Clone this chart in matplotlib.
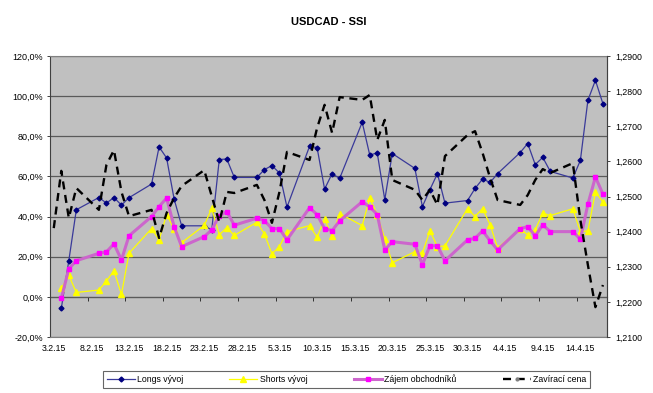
import matplotlib
matplotlib.use('Agg')
import matplotlib.pyplot as plt
import matplotlib.dates as mdates
from matplotlib.lines import Line2D
from matplotlib.ticker import FuncFormatter
from datetime import datetime

plt.rcParams['font.family'] = ['Liberation Sans', 'DejaVu Sans']

title = "USDCAD - SSI"
series_labels = ["Longs vývoj", "Shorts vývoj", "Zájem obchodníků", "Zavírací cena"]

dates = ["4.2.15", "5.2.15", "6.2.15", "9.2.15", "10.2.15", "11.2.15", "12.2.15", "13.2.15",
         "16.2.15", "17.2.15", "18.2.15", "19.2.15", "20.2.15", "23.2.15", "24.2.15", "25.2.15",
         "26.2.15", "27.2.15",
         "2.3.15", "3.3.15", "4.3.15", "5.3.15", "6.3.15", "9.3.15", "10.3.15", "11.3.15",
         "12.3.15", "13.3.15", "16.3.15", "17.3.15", "18.3.15", "19.3.15", "20.3.15", "23.3.15",
         "24.3.15", "25.3.15", "26.3.15", "27.3.15", "30.3.15", "31.3.15",
         "1.4.15", "2.4.15", "3.4.15", "6.4.15", "7.4.15", "8.4.15", "9.4.15", "10.4.15",
         "13.4.15", "14.4.15", "15.4.15", "16.4.15", "17.4.15"]
close_dates = ["3.2.15"] + dates

longs = [-5.8, 18.0, 43.4, 49.5, 46.7, 49.5, 45.7, 49.4, 56.2, 74.7, 69.2, 48.7, 35.4, 35.4, 33.4,
         68.4, 68.7, 59.5,
         59.5, 63.4, 65.4, 61.7, 44.7, 75.0, 74.4, 53.7, 61.4, 59.0, 87.0, 70.7, 71.7, 48.4, 71.4,
         64.0, 45.0, 53.4, 61.4, 46.7, 48.0, 54.0,
         58.7, 57.0, 61.4, 71.9, 76.4, 65.9, 69.5, 62.5, 59.2, 68.0, 97.9, 107.9, 96.2]
shorts = [4.2, 10.7, 2.2, 3.4, 7.9, 13.0, 1.2, 21.7, 34.0, 28.4, 40.9, 33.7, 27.0, 35.6, 44.1,
          30.9, 34.5, 30.6,
          37.2, 31.4, 21.4, 25.0, 32.5, 35.5, 29.7, 38.7, 30.4, 41.5, 35.5, 49.2, 40.9, 29.0, 17.0,
          22.5, 21.7, 32.9, 25.0, 25.4, 44.0, 40.0,
          44.0, 35.9, 24.4, 33.9, 30.9, 33.4, 41.7, 40.5, 43.9, 32.4, 32.9, 52.2, 47.2]
zajem = [-0.8, 14.0, 18.0, 21.7, 22.4, 26.4, 18.4, 30.4, 40.0, 45.0, 49.2, 35.0, 25.0, 30.0, 33.4,
         40.4, 42.5, 35.7,
         39.2, 38.0, 34.0, 34.0, 28.4, 44.4, 41.0, 34.0, 33.0, 37.9, 47.4, 44.9, 41.0, 23.4, 27.5,
         26.2, 16.0, 25.5, 25.4, 18.0, 28.4, 29.2,
         32.9, 27.9, 23.4, 34.0, 35.0, 30.4, 35.9, 32.5, 32.5, 28.7, 46.2, 59.7, 51.2]
close = [1.2410,
         1.2573, 1.2439, 1.2524, 1.2462, 1.2590, 1.2632, 1.2513, 1.2444, 1.2462, 1.2382, 1.2453,
         1.2496, 1.2530, 1.2575, 1.2501, 1.2427, 1.2513, 1.2510,
         1.2533, 1.2490, 1.2425, 1.2513, 1.2627, 1.2604, 1.2695, 1.2761, 1.2681, 1.2783, 1.2775,
         1.2789, 1.2661, 1.2718, 1.2547, 1.2519, 1.2490, 1.2519, 1.2476, 1.2615, 1.2675, 1.2686,
         1.2624, 1.2553, 1.2490, 1.2476, 1.2504, 1.2547, 1.2578, 1.2567, 1.2595, 1.2433, 1.2305,
         1.2185, 1.2248]

x_tick_labels = ["3.2.15", "8.2.15", "13.2.15", "18.2.15", "23.2.15", "28.2.15", "5.3.15",
                 "10.3.15", "15.3.15", "20.3.15", "25.3.15", "30.3.15", "4.4.15", "9.4.15",
                 "14.4.15"]
left_ticks = [-20, 0, 20, 40, 60, 80, 100, 120]
right_ticks = [1.21, 1.22, 1.23, 1.24, 1.25, 1.26, 1.27, 1.28, 1.29]


def parse(s):
    return datetime.strptime(s, "%d.%m.%y")


x = [parse(s) for s in dates]
xc = [parse(s) for s in close_dates]
xt = mdates.date2num([parse(s) for s in x_tick_labels])

W, H = 653, 393
fig = plt.figure(figsize=(W / 100, H / 100), dpi=100)
fig.patch.set_facecolor('white')

L, R, T, B = 50, 606.7, 56, 337
ax = fig.add_axes([L / W, 1 - B / H, (R - L) / W, (B - T) / H])
ax.set_facecolor('#C0C0C0')

x0 = mdates.date2num(xc[0]) - 0.5
x1 = mdates.date2num(xc[-1]) + 0.5
ax.set_xlim(x0, x1)
ax.set_ylim(left_ticks[0], left_ticks[-1])
ax.set_yticks(left_ticks)
ax.yaxis.set_major_formatter(FuncFormatter(lambda v, p: f"{v:.1f}".replace('.', ',') + '%'))
ax.yaxis.grid(True, color='#5a5a5a', lw=0.9)
ax.set_axisbelow(True)

ax.set_xticks(xt)
ax.set_xticklabels(x_tick_labels)
ax.tick_params(axis='x', length=0, pad=5, labelsize=6.3)
ax.tick_params(axis='y', direction='out', length=2.5, width=0.7, pad=2.5, labelsize=6.5,
               color='#404040')
for s in ax.spines.values():
    s.set_color('#808080')
    s.set_linewidth(0.8)
ax.spines['left'].set_color('#404040')

# category axis crossing at 0 %
sec = ax.secondary_xaxis((0 - left_ticks[0]) / (left_ticks[-1] - left_ticks[0]))
sec.set_xticks(xt - 0.5)
sec.tick_params(axis='x', direction='out', length=3, width=0.7, color='#303030',
                labelbottom=False, labeltop=False)
sec.spines['bottom'].set_color('#303030')
sec.spines['bottom'].set_linewidth(0.8)

ax.plot(x, longs, color='#3a3a9a', lw=0.9, marker='D', ms=2.5, mfc='#000080',
        mec='#000080', zorder=3)
ax.plot(x, shorts, color='#FFFF00', lw=0.9, marker='^', ms=3.8, mfc='#FFFF00',
        mec='#FFFF00', zorder=4)
ax.plot(x, zajem, color='#CC66CC', lw=2.2, marker='s', ms=2.9, mfc='#FF00FF',
        mec='#FF00FF', zorder=5)

ax2 = ax.twinx()
ax2.set_ylim(right_ticks[0], right_ticks[-1])
ax2.set_yticks(right_ticks)
ax2.yaxis.set_major_formatter(FuncFormatter(lambda v, p: f"{v:.4f}".replace('.', ',')))
ax2.tick_params(axis='y', direction='out', length=2.5, width=0.7, pad=4, labelsize=6.3,
                color='#404040')
for s in ax2.spines.values():
    s.set_visible(False)
ax2.spines['right'].set_visible(True)
ax2.spines['right'].set_color('#404040')
ax2.spines['right'].set_linewidth(0.8)
ax2.plot(xc, close, color='black', lw=1.7, dashes=(3.4, 2.4), zorder=6)
ax2.set_xlim(x0, x1)

fig.text((L + R) / 2 / W, 1 - 22 / H, title, ha='center', va='center',
         fontsize=8, fontweight='bold')

handles = [
    Line2D([], [], color='#3a3a9a', lw=0.9, marker='D', ms=2.5, mfc='#000080', mec='#000080'),
    Line2D([], [], color='#FFFF00', lw=0.9, marker='^', ms=3.8, mfc='#FFFF00', mec='#FFFF00'),
    Line2D([], [], color='#CC66CC', lw=2.2, marker='s', ms=2.9, mfc='#FF00FF', mec='#FF00FF'),
    Line2D([], [], color='black', lw=1.7, dashes=(3.4, 2.4), marker='o', ms=2,
           mfc='#808080', mec='#808080'),
]
leg = fig.legend(handles, series_labels, loc='lower left',
                 bbox_to_anchor=(103 / W, 1 - 388 / H, 487 / W, 27 / H), mode='expand',
                 ncol=4, frameon=True, fancybox=False, edgecolor='#404040',
                 fontsize=6.3, handlelength=3.2, handletextpad=0.3, borderaxespad=0)
leg.get_frame().set_linewidth(0.8)

fig.savefig('out.png', dpi=100, facecolor='white')
